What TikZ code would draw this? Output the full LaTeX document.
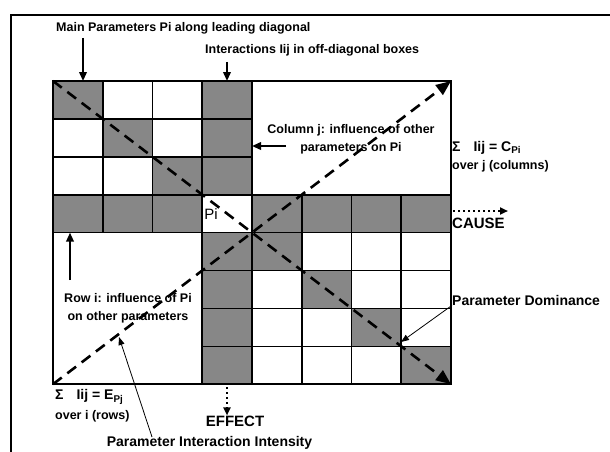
\documentclass[tikz,border=0pt]{standalone}
\usepackage{fontspec}
\setmainfont{Liberation Sans}
\usetikzlibrary{arrows.meta,calc}

\begin{document}
\begin{tikzpicture}[x=1pt, y=-1pt, >={Triangle[length=9pt,width=7.5pt]},
  lab/.style={font=\bfseries\fontsize{12.5}{18}\selectfont, inner sep=0pt},
  biglab/.style={font=\bfseries\fontsize{14}{17}\selectfont, inner sep=0pt},
  caplab/.style={font=\bfseries\fontsize{15}{15}\selectfont, inner sep=0pt},
  shade/.style={fill=black!47},
  gridline/.style={line width=1.6pt},
  diag/.style={line width=2.6pt, dash pattern=on 11pt off 7pt, -{Triangle[length=15pt,width=12pt]}},
  dots/.style={line width=2pt, dash pattern=on 2pt off 3pt, -{Triangle[length=8pt,width=7pt]}},
  ptr/.style={line width=2pt, ->},
  fine/.style={line width=0.8pt, -{Triangle[length=8pt,width=6pt]}}]
  \useasboundingbox (0,0) rectangle (610,452);
  % ---------------------------------------------------------------- frame
  \draw[line width=1.5pt] (11,452) -- (11,15) -- (610,15);
  % ---------------------------------------------------------------- matrix
  \foreach \c in {0,...,8}
    \foreach \r in {0,...,8}
      \coordinate (g-\c-\r) at (53+49.75*\c, 81+37.9*\r);
  % shaded boxes, column/row
  \foreach \c/\r in {0/0,1/1,2/2, 3/0,3/1,3/2, 0/3,1/3,2/3,4/3,5/3,6/3,7/3,
                     3/4,3/5,3/6,3/7, 4/4,5/5,6/6,7/7}
    \fill[shade] (g-\c-\r) rectangle ++(49.75,37.9);
  % box lines
  \foreach \r in {1,2}
    \draw[gridline] (g-0-\r) -- (g-4-\r) (g-\r-0) -- (g-\r-4);
  \foreach \r in {3,4}
    \draw[gridline] (g-0-\r) -- (g-8-\r) (g-\r-0) -- (g-\r-8);
  \foreach \r in {5,6,7}
    \draw[gridline] (g-3-\r) -- (g-8-\r) (g-\r-3) -- (g-\r-8);
  \draw[line width=2pt] (g-0-0) rectangle (g-8-8);
  \node[font=\fontsize{15}{15}\selectfont, inner sep=0pt] (pi) at (211,214) {Pi};
  % diagonals
  \draw[diag] (g-0-0) -- (g-8-8);
  \draw[diag] (g-0-8) -- (g-8-0);
  % ---------------------------------------------------------------- labels
  \node[lab, anchor=west] (mainpar) at (56,28) {Main Parameters Pi along leading diagonal};
  \node[lab, anchor=west] (inter) at (205,50) {Interactions Iij in off-diagonal boxes};
  \node[lab, align=center] (colj) at (351,139) {Column j: influence of other\\parameters on Pi};
  \node[biglab, anchor=west] (sumc) at (452,148) {Σ\hspace{13pt}Iij = C\textsubscript{Pi}};
  \node[lab, anchor=west] (overj) at (452,166) {over j (columns)};
  \node[caplab, anchor=west] (cause) at (452,223) {CAUSE};
  \node[lab, align=center] (rowi) at (128,308.5) {Row i: influence of Pi\\on other parameters};
  \node[biglab, anchor=west] (dom) at (452,300) {Parameter Dominance};
  \node[biglab, anchor=west] (sume) at (55,397) {Σ\hspace{13pt}Iij = E\textsubscript{Pj}};
  \node[lab, anchor=west] (overi) at (55,416) {over i (rows)};
  \node[caplab] (effect) at (235,421) {EFFECT};
  \node[biglab] (intens) at (209.5,443) {Parameter Interaction Intensity};
  % ---------------------------------------------------------------- arrows
  \coordinate (a1) at (83,38);
  \coordinate (a2) at (227,62);
  \coordinate (a3) at (286,146);
  \coordinate (a4) at (70,280);
  \draw[ptr] (a1) -- (a1 |- g-0-0);
  \draw[ptr] (a2) -- (a2 |- g-3-0);
  \draw[ptr] (a3) -- (a3 -| g-4-0);
  \draw[ptr] (a4) -- (a4 |- g-0-4);
  \coordinate (c1) at (453,211);
  \coordinate (e1) at (227,387);
  \draw[dots] (c1) -- ++(55,0);
  \draw[dots] (e1) -- (e1 |- effect.north);
  \coordinate (d1) at (401,342);
  \coordinate (i0) at (152,437);
  \coordinate (i1) at (119,337);
  \draw[fine] (dom.south west) -- (d1);
  \draw[fine] (i0) -- (i1);
\end{tikzpicture}
\end{document}
